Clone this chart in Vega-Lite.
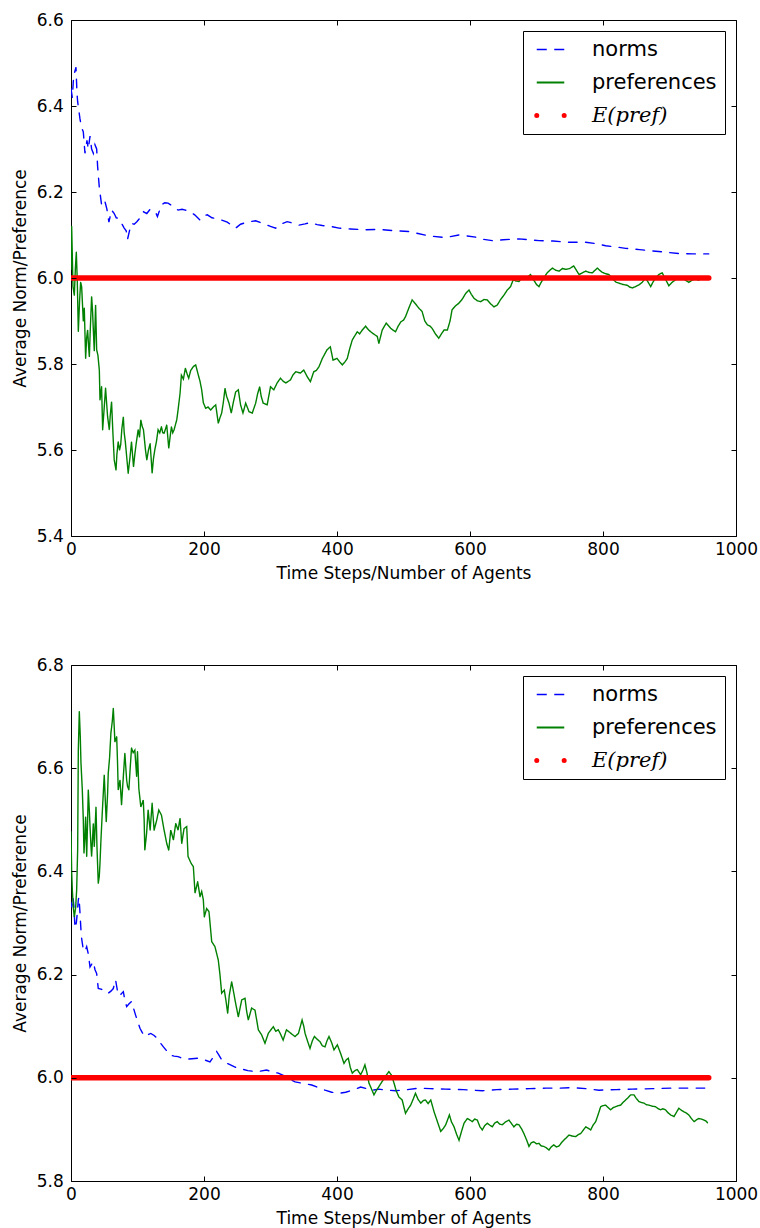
{
  "$schema": "https://vega.github.io/schema/vega-lite/v6.json",
  "background": "white",
  "padding": {"left": 10, "top": 10, "right": 0, "bottom": 0},
  "bounds": "flush",
  "spacing": 129,
  "config": {
    "font": "DejaVu Sans",
    "view": {"stroke": "#000", "strokeWidth": 1},
    "axis": {
      "grid": false, "domain": false,
      "tickColor": "#000", "tickWidth": 1,
      "labelFont": "DejaVu Sans", "labelFontSize": 17, "labelColor": "#000",
      "titleFont": "DejaVu Sans", "titleFontSize": 17, "titleFontWeight": "normal", "titleColor": "#000"
    }
  },
  "resolve": {"scale": {"color": "independent"}, "legend": {"color": "independent"}},
  "datasets": {
    "run1": [
      {"series":"norms","step":0,"value":6.44},{"series":"norms","step":2,"value":6.42},{"series":"norms","step":4,"value":6.47},{"series":"norms","step":7.5,"value":6.49},{"series":"norms","step":9,"value":6.43},{"series":"norms","step":10,"value":6.41},{"series":"norms","step":13.5,"value":6.37},{"series":"norms","step":16,"value":6.35},{"series":"norms","step":18.5,"value":6.34},{"series":"norms","step":21,"value":6.29},{"series":"norms","step":24,"value":6.32},{"series":"norms","step":26,"value":6.30},{"series":"norms","step":28.6,"value":6.33},{"series":"norms","step":31,"value":6.30},{"series":"norms","step":33.6,"value":6.29},{"series":"norms","step":36,"value":6.31},{"series":"norms","step":38.6,"value":6.30},{"series":"norms","step":40,"value":6.26},{"series":"norms","step":42.6,"value":6.21},{"series":"norms","step":46,"value":6.17},{"series":"norms","step":49,"value":6.18},{"series":"norms","step":51,"value":6.178},{"series":"norms","step":54,"value":6.16},{"series":"norms","step":57,"value":6.13},{"series":"norms","step":61,"value":6.158},{"series":"norms","step":65,"value":6.15},{"series":"norms","step":68,"value":6.14},{"series":"norms","step":71,"value":6.139},{"series":"norms","step":75,"value":6.13},{"series":"norms","step":80,"value":6.116},{"series":"norms","step":83,"value":6.11},{"series":"norms","step":85,"value":6.09},{"series":"norms","step":88,"value":6.11},{"series":"norms","step":91,"value":6.127},{"series":"norms","step":95,"value":6.125},{"series":"norms","step":99,"value":6.131},{"series":"norms","step":104,"value":6.14},{"series":"norms","step":109,"value":6.154},{"series":"norms","step":114,"value":6.15},{"series":"norms","step":119,"value":6.16},{"series":"norms","step":124,"value":6.154},{"series":"norms","step":128,"value":6.15},{"series":"norms","step":130,"value":6.143},{"series":"norms","step":136,"value":6.17},{"series":"norms","step":141,"value":6.175},{"series":"norms","step":146,"value":6.174},{"series":"norms","step":152,"value":6.168},{"series":"norms","step":161,"value":6.158},{"series":"norms","step":167,"value":6.16},{"series":"norms","step":172,"value":6.158},{"series":"norms","step":180,"value":6.153},{"series":"norms","step":186,"value":6.147},{"series":"norms","step":194,"value":6.135},{"series":"norms","step":200,"value":6.145},{"series":"norms","step":205,"value":6.147},{"series":"norms","step":212,"value":6.14},{"series":"norms","step":222.6,"value":6.137},{"series":"norms","step":235,"value":6.13},{"series":"norms","step":247.6,"value":6.116},{"series":"norms","step":255,"value":6.125},{"series":"norms","step":265,"value":6.13},{"series":"norms","step":277.7,"value":6.133},{"series":"norms","step":290,"value":6.126},{"series":"norms","step":300,"value":6.12},{"series":"norms","step":307.8,"value":6.116},{"series":"norms","step":315,"value":6.125},{"series":"norms","step":325,"value":6.131},{"series":"norms","step":335,"value":6.127},{"series":"norms","step":343,"value":6.123},{"series":"norms","step":352,"value":6.126},{"series":"norms","step":360,"value":6.129},{"series":"norms","step":370,"value":6.124},{"series":"norms","step":378,"value":6.122},{"series":"norms","step":390,"value":6.12},{"series":"norms","step":403,"value":6.116},{"series":"norms","step":420,"value":6.114},{"series":"norms","step":443,"value":6.112},{"series":"norms","step":463,"value":6.113},{"series":"norms","step":485,"value":6.11},{"series":"norms","step":508,"value":6.108},{"series":"norms","step":520,"value":6.104},{"series":"norms","step":538,"value":6.098},{"series":"norms","step":563,"value":6.094},{"series":"norms","step":583,"value":6.1},{"series":"norms","step":595,"value":6.098},{"series":"norms","step":608.5,"value":6.095},{"series":"norms","step":620,"value":6.09},{"series":"norms","step":633.5,"value":6.087},{"series":"norms","step":650,"value":6.089},{"series":"norms","step":673.7,"value":6.091},{"series":"norms","step":690,"value":6.089},{"series":"norms","step":703.7,"value":6.087},{"series":"norms","step":725,"value":6.086},{"series":"norms","step":749,"value":6.083},{"series":"norms","step":774,"value":6.083},{"series":"norms","step":790,"value":6.08},{"series":"norms","step":804,"value":6.075},{"series":"norms","step":820,"value":6.072},{"series":"norms","step":834,"value":6.069},{"series":"norms","step":855,"value":6.066},{"series":"norms","step":874,"value":6.063},{"series":"norms","step":895,"value":6.06},{"series":"norms","step":914,"value":6.057},{"series":"norms","step":935,"value":6.056},{"series":"norms","step":959,"value":6.056},
      {"series":"preferences","step":0,"value":6.02},{"series":"preferences","step":1,"value":6.12},{"series":"preferences","step":3,"value":5.98},{"series":"preferences","step":5,"value":5.96},{"series":"preferences","step":6.5,"value":6.02},{"series":"preferences","step":8,"value":6.06},{"series":"preferences","step":9.5,"value":5.99},{"series":"preferences","step":11,"value":5.875},{"series":"preferences","step":13,"value":5.95},{"series":"preferences","step":14.5,"value":5.99},{"series":"preferences","step":16,"value":5.98},{"series":"preferences","step":18.5,"value":5.90},{"series":"preferences","step":20,"value":5.93},{"series":"preferences","step":22,"value":5.813},{"series":"preferences","step":23.5,"value":5.86},{"series":"preferences","step":25,"value":5.879},{"series":"preferences","step":26.5,"value":5.84},{"series":"preferences","step":27.6,"value":5.817},{"series":"preferences","step":29,"value":5.88},{"series":"preferences","step":31,"value":5.957},{"series":"preferences","step":32.5,"value":5.92},{"series":"preferences","step":33.6,"value":5.879},{"series":"preferences","step":35,"value":5.83},{"series":"preferences","step":37,"value":5.937},{"series":"preferences","step":38.6,"value":5.833},{"series":"preferences","step":40.5,"value":5.82},{"series":"preferences","step":42.6,"value":5.786},{"series":"preferences","step":43.6,"value":5.716},{"series":"preferences","step":46,"value":5.747},{"series":"preferences","step":47.6,"value":5.647},{"series":"preferences","step":50,"value":5.70},{"series":"preferences","step":52,"value":5.744},{"series":"preferences","step":55,"value":5.678},{"series":"preferences","step":57.6,"value":5.647},{"series":"preferences","step":59,"value":5.68},{"series":"preferences","step":61,"value":5.712},{"series":"preferences","step":63,"value":5.64},{"series":"preferences","step":65,"value":5.577},{"series":"preferences","step":67.7,"value":5.553},{"series":"preferences","step":69,"value":5.59},{"series":"preferences","step":71,"value":5.619},{"series":"preferences","step":73,"value":5.60},{"series":"preferences","step":74.7,"value":5.612},{"series":"preferences","step":76.5,"value":5.65},{"series":"preferences","step":78.7,"value":5.677},{"series":"preferences","step":80,"value":5.64},{"series":"preferences","step":81.7,"value":5.619},{"series":"preferences","step":84,"value":5.58},{"series":"preferences","step":86,"value":5.546},{"series":"preferences","step":88.5,"value":5.58},{"series":"preferences","step":91,"value":5.619},{"series":"preferences","step":94,"value":5.561},{"series":"preferences","step":96,"value":5.59},{"series":"preferences","step":98,"value":5.615},{"series":"preferences","step":101,"value":5.647},{"series":"preferences","step":103,"value":5.63},{"series":"preferences","step":105,"value":5.67},{"series":"preferences","step":107,"value":5.655},{"series":"preferences","step":109,"value":5.647},{"series":"preferences","step":112,"value":5.60},{"series":"preferences","step":114,"value":5.577},{"series":"preferences","step":116.5,"value":5.60},{"series":"preferences","step":119,"value":5.615},{"series":"preferences","step":121,"value":5.57},{"series":"preferences","step":122,"value":5.546},{"series":"preferences","step":124,"value":5.58},{"series":"preferences","step":126,"value":5.6},{"series":"preferences","step":128.5,"value":5.62},{"series":"preferences","step":131,"value":5.647},{"series":"preferences","step":133.5,"value":5.64},{"series":"preferences","step":136,"value":5.654},{"series":"preferences","step":138,"value":5.64},{"series":"preferences","step":140,"value":5.639},{"series":"preferences","step":144,"value":5.658},{"series":"preferences","step":147,"value":5.604},{"series":"preferences","step":149,"value":5.63},{"series":"preferences","step":151,"value":5.654},{"series":"preferences","step":153,"value":5.64},{"series":"preferences","step":155,"value":5.647},{"series":"preferences","step":159,"value":5.67},{"series":"preferences","step":161,"value":5.693},{"series":"preferences","step":164,"value":5.732},{"series":"preferences","step":166,"value":5.774},{"series":"preferences","step":169,"value":5.765},{"series":"preferences","step":172,"value":5.79},{"series":"preferences","step":175,"value":5.775},{"series":"preferences","step":177,"value":5.767},{"series":"preferences","step":180,"value":5.785},{"series":"preferences","step":184,"value":5.794},{"series":"preferences","step":187.5,"value":5.798},{"series":"preferences","step":191.5,"value":5.774},{"series":"preferences","step":194,"value":5.76},{"series":"preferences","step":196.5,"value":5.74},{"series":"preferences","step":199,"value":5.71},{"series":"preferences","step":202.5,"value":5.697},{"series":"preferences","step":206,"value":5.70},{"series":"preferences","step":210,"value":5.693},{"series":"preferences","step":214,"value":5.70},{"series":"preferences","step":217.6,"value":5.705},{"series":"preferences","step":221.5,"value":5.662},{"series":"preferences","step":224,"value":5.675},{"series":"preferences","step":226.6,"value":5.686},{"series":"preferences","step":229,"value":5.71},{"series":"preferences","step":231.6,"value":5.743},{"series":"preferences","step":234,"value":5.725},{"series":"preferences","step":237.6,"value":5.709},{"series":"preferences","step":241,"value":5.686},{"series":"preferences","step":244,"value":5.71},{"series":"preferences","step":247.6,"value":5.735},{"series":"preferences","step":251.6,"value":5.74},{"series":"preferences","step":255,"value":5.705},{"series":"preferences","step":258.6,"value":5.686},{"series":"preferences","step":262.7,"value":5.709},{"series":"preferences","step":267.7,"value":5.689},{"series":"preferences","step":272.6,"value":5.686},{"series":"preferences","step":277.7,"value":5.709},{"series":"preferences","step":280.5,"value":5.73},{"series":"preferences","step":283.7,"value":5.747},{"series":"preferences","step":286,"value":5.725},{"series":"preferences","step":289,"value":5.709},{"series":"preferences","step":295,"value":5.705},{"series":"preferences","step":300,"value":5.747},{"series":"preferences","step":305,"value":5.74},{"series":"preferences","step":310,"value":5.756},{"series":"preferences","step":315,"value":5.767},{"series":"preferences","step":319,"value":5.76},{"series":"preferences","step":323,"value":5.756},{"series":"preferences","step":330,"value":5.763},{"series":"preferences","step":334,"value":5.775},{"series":"preferences","step":338,"value":5.782},{"series":"preferences","step":345,"value":5.779},{"series":"preferences","step":350,"value":5.786},{"series":"preferences","step":355,"value":5.771},{"series":"preferences","step":360,"value":5.759},{"series":"preferences","step":365,"value":5.782},{"series":"preferences","step":369,"value":5.785},{"series":"preferences","step":373,"value":5.794},{"series":"preferences","step":378,"value":5.813},{"series":"preferences","step":385,"value":5.833},{"series":"preferences","step":390,"value":5.84},{"series":"preferences","step":394,"value":5.809},{"series":"preferences","step":400,"value":5.813},{"series":"preferences","step":404,"value":5.805},{"series":"preferences","step":408,"value":5.798},{"series":"preferences","step":412,"value":5.805},{"series":"preferences","step":415.5,"value":5.813},{"series":"preferences","step":419,"value":5.835},{"series":"preferences","step":423,"value":5.856},{"series":"preferences","step":430.5,"value":5.875},{"series":"preferences","step":434,"value":5.87},{"series":"preferences","step":438,"value":5.879},{"series":"preferences","step":443,"value":5.888},{"series":"preferences","step":447,"value":5.88},{"series":"preferences","step":450.7,"value":5.875},{"series":"preferences","step":455,"value":5.87},{"series":"preferences","step":460.6,"value":5.864},{"series":"preferences","step":463,"value":5.848},{"series":"preferences","step":468,"value":5.879},{"series":"preferences","step":474,"value":5.895},{"series":"preferences","step":478,"value":5.888},{"series":"preferences","step":480.7,"value":5.883},{"series":"preferences","step":485,"value":5.878},{"series":"preferences","step":488,"value":5.875},{"series":"preferences","step":492,"value":5.888},{"series":"preferences","step":496,"value":5.898},{"series":"preferences","step":500,"value":5.902},{"series":"preferences","step":503,"value":5.91},{"series":"preferences","step":508,"value":5.93},{"series":"preferences","step":513,"value":5.949},{"series":"preferences","step":518,"value":5.94},{"series":"preferences","step":523,"value":5.93},{"series":"preferences","step":528,"value":5.922},{"series":"preferences","step":532,"value":5.90},{"series":"preferences","step":536,"value":5.891},{"series":"preferences","step":540,"value":5.888},{"series":"preferences","step":543,"value":5.883},{"series":"preferences","step":548,"value":5.87},{"series":"preferences","step":553,"value":5.86},{"series":"preferences","step":557,"value":5.87},{"series":"preferences","step":561,"value":5.879},{"series":"preferences","step":566,"value":5.879},{"series":"preferences","step":570,"value":5.90},{"series":"preferences","step":573,"value":5.926},{"series":"preferences","step":578,"value":5.935},{"series":"preferences","step":583,"value":5.941},{"series":"preferences","step":588,"value":5.95},{"series":"preferences","step":593.5,"value":5.964},{"series":"preferences","step":598.5,"value":5.972},{"series":"preferences","step":602,"value":5.962},{"series":"preferences","step":606,"value":5.953},{"series":"preferences","step":611,"value":5.947},{"series":"preferences","step":616,"value":5.945},{"series":"preferences","step":621,"value":5.95},{"series":"preferences","step":626,"value":5.949},{"series":"preferences","step":631,"value":5.94},{"series":"preferences","step":636,"value":5.933},{"series":"preferences","step":641,"value":5.937},{"series":"preferences","step":646,"value":5.95},{"series":"preferences","step":651,"value":5.96},{"series":"preferences","step":656,"value":5.972},{"series":"preferences","step":661,"value":5.98},{"series":"preferences","step":665,"value":5.996},{"series":"preferences","step":669,"value":5.993},{"series":"preferences","step":673.7,"value":5.992},{"series":"preferences","step":678,"value":6.0},{"series":"preferences","step":685,"value":6.0},{"series":"preferences","step":691,"value":6.008},{"series":"preferences","step":696,"value":5.995},{"series":"preferences","step":700,"value":5.985},{"series":"preferences","step":703.7,"value":5.98},{"series":"preferences","step":707,"value":5.99},{"series":"preferences","step":711,"value":6.0},{"series":"preferences","step":716,"value":6.012},{"series":"preferences","step":720,"value":6.018},{"series":"preferences","step":724,"value":6.023},{"series":"preferences","step":729,"value":6.018},{"series":"preferences","step":734,"value":6.016},{"series":"preferences","step":739,"value":6.022},{"series":"preferences","step":744,"value":6.02},{"series":"preferences","step":750,"value":6.022},{"series":"preferences","step":756,"value":6.028},{"series":"preferences","step":760,"value":6.018},{"series":"preferences","step":764,"value":6.008},{"series":"preferences","step":769,"value":6.012},{"series":"preferences","step":774,"value":6.016},{"series":"preferences","step":779,"value":6.013},{"series":"preferences","step":784,"value":6.012},{"series":"preferences","step":788,"value":6.018},{"series":"preferences","step":791.5,"value":6.023},{"series":"preferences","step":795,"value":6.018},{"series":"preferences","step":799,"value":6.013},{"series":"preferences","step":804,"value":6.01},{"series":"preferences","step":809,"value":6.008},{"series":"preferences","step":815,"value":5.997},{"series":"preferences","step":820,"value":5.99},{"series":"preferences","step":824,"value":5.988},{"series":"preferences","step":830,"value":5.985},{"series":"preferences","step":836.6,"value":5.983},{"series":"preferences","step":840,"value":5.979},{"series":"preferences","step":844,"value":5.977},{"series":"preferences","step":849,"value":5.98},{"series":"preferences","step":854,"value":5.984},{"series":"preferences","step":859,"value":5.99},{"series":"preferences","step":864,"value":6.0},{"series":"preferences","step":868,"value":5.99},{"series":"preferences","step":871.7,"value":5.98},{"series":"preferences","step":875,"value":5.99},{"series":"preferences","step":879,"value":6.0},{"series":"preferences","step":884,"value":6.008},{"series":"preferences","step":889,"value":6.012},{"series":"preferences","step":893,"value":6.0},{"series":"preferences","step":899,"value":5.982},{"series":"preferences","step":904,"value":5.99},{"series":"preferences","step":909,"value":5.996},{"series":"preferences","step":914,"value":5.998},{"series":"preferences","step":919,"value":6.0},{"series":"preferences","step":924,"value":5.995},{"series":"preferences","step":929,"value":5.99},{"series":"preferences","step":934,"value":5.995},{"series":"preferences","step":939,"value":5.998},{"series":"preferences","step":944,"value":5.995},{"series":"preferences","step":949,"value":6.0},{"series":"preferences","step":954,"value":6.0},{"series":"preferences","step":959,"value":6.0},
      {"series":"E(pref)","step":0,"value":6.0},{"series":"E(pref)","step":959,"value":6.0}
    ],
    "run2": [
      {"series":"norms","step":0,"value":6.34},{"series":"norms","step":1,"value":6.33},{"series":"norms","step":3,"value":6.35},{"series":"norms","step":4.5,"value":6.33},{"series":"norms","step":6,"value":6.29},{"series":"norms","step":8,"value":6.30},{"series":"norms","step":9.5,"value":6.32},{"series":"norms","step":11,"value":6.345},{"series":"norms","step":12,"value":6.35},{"series":"norms","step":13.5,"value":6.32},{"series":"norms","step":15,"value":6.286},{"series":"norms","step":16,"value":6.27},{"series":"norms","step":18.5,"value":6.248},{"series":"norms","step":21,"value":6.245},{"series":"norms","step":23.6,"value":6.254},{"series":"norms","step":26,"value":6.24},{"series":"norms","step":28.6,"value":6.215},{"series":"norms","step":31,"value":6.22},{"series":"norms","step":33.6,"value":6.225},{"series":"norms","step":36,"value":6.21},{"series":"norms","step":38.6,"value":6.202},{"series":"norms","step":41,"value":6.173},{"series":"norms","step":45,"value":6.172},{"series":"norms","step":48.6,"value":6.17},{"series":"norms","step":52,"value":6.165},{"series":"norms","step":56,"value":6.164},{"series":"norms","step":60,"value":6.168},{"series":"norms","step":63.6,"value":6.173},{"series":"norms","step":67,"value":6.19},{"series":"norms","step":69,"value":6.175},{"series":"norms","step":71,"value":6.16},{"series":"norms","step":75,"value":6.162},{"series":"norms","step":78.7,"value":6.167},{"series":"norms","step":81,"value":6.15},{"series":"norms","step":83.7,"value":6.138},{"series":"norms","step":87,"value":6.143},{"series":"norms","step":91,"value":6.148},{"series":"norms","step":94,"value":6.135},{"series":"norms","step":97,"value":6.122},{"series":"norms","step":100,"value":6.11},{"series":"norms","step":103.7,"value":6.096},{"series":"norms","step":107,"value":6.088},{"series":"norms","step":111,"value":6.08},{"series":"norms","step":115,"value":6.083},{"series":"norms","step":120,"value":6.086},{"series":"norms","step":125,"value":6.082},{"series":"norms","step":129,"value":6.077},{"series":"norms","step":134,"value":6.068},{"series":"norms","step":139,"value":6.06},{"series":"norms","step":144,"value":6.052},{"series":"norms","step":149,"value":6.044},{"series":"norms","step":155,"value":6.042},{"series":"norms","step":161,"value":6.041},{"series":"norms","step":167,"value":6.038},{"series":"norms","step":174,"value":6.036},{"series":"norms","step":182,"value":6.037},{"series":"norms","step":191.5,"value":6.038},{"series":"norms","step":200,"value":6.035},{"series":"norms","step":209,"value":6.031},{"series":"norms","step":214,"value":6.04},{"series":"norms","step":219,"value":6.051},{"series":"norms","step":222,"value":6.045},{"series":"norms","step":226.6,"value":6.035},{"series":"norms","step":231,"value":6.03},{"series":"norms","step":236.6,"value":6.027},{"series":"norms","step":246,"value":6.021},{"series":"norms","step":256.7,"value":6.017},{"series":"norms","step":266,"value":6.014},{"series":"norms","step":276.7,"value":6.012},{"series":"norms","step":285,"value":6.013},{"series":"norms","step":294,"value":6.015},{"series":"norms","step":302,"value":6.012},{"series":"norms","step":311.7,"value":6.009},{"series":"norms","step":320,"value":6.004},{"series":"norms","step":328,"value":5.998},{"series":"norms","step":337,"value":5.992},{"series":"norms","step":350,"value":5.989},{"series":"norms","step":362,"value":5.986},{"series":"norms","step":372,"value":5.981},{"series":"norms","step":382,"value":5.976},{"series":"norms","step":392,"value":5.972},{"series":"norms","step":403,"value":5.97},{"series":"norms","step":413,"value":5.972},{"series":"norms","step":423,"value":5.976},{"series":"norms","step":435.6,"value":5.982},{"series":"norms","step":445,"value":5.979},{"series":"norms","step":453,"value":5.976},{"series":"norms","step":463,"value":5.978},{"series":"norms","step":475,"value":5.976},{"series":"norms","step":488,"value":5.975},{"series":"norms","step":505,"value":5.977},{"series":"norms","step":523,"value":5.98},{"series":"norms","step":540,"value":5.979},{"series":"norms","step":563,"value":5.978},{"series":"norms","step":590,"value":5.977},{"series":"norms","step":618.5,"value":5.975},{"series":"norms","step":640,"value":5.977},{"series":"norms","step":663.7,"value":5.978},{"series":"norms","step":690,"value":5.979},{"series":"norms","step":714,"value":5.98},{"series":"norms","step":735,"value":5.98},{"series":"norms","step":754,"value":5.981},{"series":"norms","step":775,"value":5.979},{"series":"norms","step":794,"value":5.976},{"series":"norms","step":820,"value":5.977},{"series":"norms","step":844,"value":5.978},{"series":"norms","step":875,"value":5.979},{"series":"norms","step":904,"value":5.98},{"series":"norms","step":930,"value":5.98},{"series":"norms","step":957,"value":5.98},
      {"series":"preferences","step":0,"value":6.477},{"series":"preferences","step":1,"value":6.40},{"series":"preferences","step":2,"value":6.364},{"series":"preferences","step":3.5,"value":6.33},{"series":"preferences","step":5,"value":6.312},{"series":"preferences","step":7,"value":6.33},{"series":"preferences","step":8.5,"value":6.364},{"series":"preferences","step":10,"value":6.441},{"series":"preferences","step":11,"value":6.635},{"series":"preferences","step":12.5,"value":6.71},{"series":"preferences","step":14,"value":6.66},{"series":"preferences","step":15,"value":6.61},{"series":"preferences","step":17,"value":6.558},{"series":"preferences","step":18.5,"value":6.50},{"series":"preferences","step":19.5,"value":6.435},{"series":"preferences","step":21,"value":6.47},{"series":"preferences","step":22,"value":6.506},{"series":"preferences","step":23.6,"value":6.429},{"series":"preferences","step":25,"value":6.50},{"series":"preferences","step":26,"value":6.558},{"series":"preferences","step":27.5,"value":6.52},{"series":"preferences","step":28.6,"value":6.487},{"series":"preferences","step":30,"value":6.45},{"series":"preferences","step":31,"value":6.429},{"series":"preferences","step":33.6,"value":6.493},{"series":"preferences","step":35,"value":6.448},{"series":"preferences","step":37.6,"value":6.525},{"series":"preferences","step":39,"value":6.45},{"series":"preferences","step":41,"value":6.377},{"series":"preferences","step":42.5,"value":6.39},{"series":"preferences","step":43.6,"value":6.416},{"series":"preferences","step":45,"value":6.46},{"series":"preferences","step":47,"value":6.513},{"series":"preferences","step":50,"value":6.587},{"series":"preferences","step":51.5,"value":6.54},{"series":"preferences","step":53,"value":6.496},{"series":"preferences","step":55,"value":6.55},{"series":"preferences","step":56,"value":6.59},{"series":"preferences","step":58,"value":6.62},{"series":"preferences","step":60,"value":6.668},{"series":"preferences","step":62,"value":6.69},{"series":"preferences","step":63.6,"value":6.716},{"series":"preferences","step":65,"value":6.68},{"series":"preferences","step":66,"value":6.651},{"series":"preferences","step":68.7,"value":6.661},{"series":"preferences","step":70,"value":6.61},{"series":"preferences","step":71,"value":6.558},{"series":"preferences","step":73.7,"value":6.577},{"series":"preferences","step":76,"value":6.529},{"series":"preferences","step":78.7,"value":6.584},{"series":"preferences","step":81,"value":6.629},{"series":"preferences","step":83.7,"value":6.577},{"series":"preferences","step":85,"value":6.565},{"series":"preferences","step":87,"value":6.558},{"series":"preferences","step":89,"value":6.60},{"series":"preferences","step":91,"value":6.639},{"series":"preferences","step":93.5,"value":6.63},{"series":"preferences","step":96,"value":6.635},{"series":"preferences","step":98.7,"value":6.584},{"series":"preferences","step":100,"value":6.632},{"series":"preferences","step":102,"value":6.561},{"series":"preferences","step":105,"value":6.525},{"series":"preferences","step":108.7,"value":6.538},{"series":"preferences","step":110,"value":6.50},{"series":"preferences","step":111,"value":6.441},{"series":"preferences","step":113.7,"value":6.474},{"series":"preferences","step":116,"value":6.519},{"series":"preferences","step":119,"value":6.48},{"series":"preferences","step":122,"value":6.532},{"series":"preferences","step":125,"value":6.48},{"series":"preferences","step":129,"value":6.5},{"series":"preferences","step":132,"value":6.519},{"series":"preferences","step":136,"value":6.509},{"series":"preferences","step":140,"value":6.48},{"series":"preferences","step":144,"value":6.454},{"series":"preferences","step":147,"value":6.441},{"series":"preferences","step":150,"value":6.48},{"series":"preferences","step":154,"value":6.461},{"series":"preferences","step":157.5,"value":6.493},{"series":"preferences","step":161,"value":6.48},{"series":"preferences","step":164,"value":6.503},{"series":"preferences","step":166.5,"value":6.454},{"series":"preferences","step":170,"value":6.483},{"series":"preferences","step":174,"value":6.487},{"series":"preferences","step":176,"value":6.429},{"series":"preferences","step":180.5,"value":6.416},{"series":"preferences","step":184,"value":6.409},{"series":"preferences","step":186.5,"value":6.358},{"series":"preferences","step":190.5,"value":6.38},{"series":"preferences","step":194,"value":6.351},{"series":"preferences","step":196.5,"value":6.361},{"series":"preferences","step":199,"value":6.345},{"series":"preferences","step":200.5,"value":6.312},{"series":"preferences","step":204,"value":6.328},{"series":"preferences","step":207.5,"value":6.322},{"series":"preferences","step":211.6,"value":6.264},{"series":"preferences","step":216.5,"value":6.254},{"series":"preferences","step":221.5,"value":6.228},{"series":"preferences","step":224,"value":6.20},{"series":"preferences","step":226.6,"value":6.164},{"series":"preferences","step":230.5,"value":6.17},{"series":"preferences","step":233,"value":6.15},{"series":"preferences","step":235.6,"value":6.125},{"series":"preferences","step":238,"value":6.16},{"series":"preferences","step":241.6,"value":6.186},{"series":"preferences","step":244,"value":6.17},{"series":"preferences","step":246.6,"value":6.151},{"series":"preferences","step":251.6,"value":6.118},{"series":"preferences","step":256.7,"value":6.151},{"series":"preferences","step":261.7,"value":6.154},{"series":"preferences","step":264,"value":6.13},{"series":"preferences","step":266.6,"value":6.112},{"series":"preferences","step":271.6,"value":6.135},{"series":"preferences","step":276.7,"value":6.131},{"series":"preferences","step":281.7,"value":6.093},{"series":"preferences","step":286.7,"value":6.083},{"series":"preferences","step":291.7,"value":6.067},{"series":"preferences","step":296.7,"value":6.086},{"series":"preferences","step":300,"value":6.092},{"series":"preferences","step":304.2,"value":6.099},{"series":"preferences","step":308,"value":6.09},{"series":"preferences","step":311.7,"value":6.093},{"series":"preferences","step":315,"value":6.085},{"series":"preferences","step":319,"value":6.073},{"series":"preferences","step":324,"value":6.093},{"series":"preferences","step":327,"value":6.09},{"series":"preferences","step":330.8,"value":6.086},{"series":"preferences","step":336.8,"value":6.08},{"series":"preferences","step":342,"value":6.086},{"series":"preferences","step":345,"value":6.10},{"series":"preferences","step":347.5,"value":6.112},{"series":"preferences","step":350,"value":6.10},{"series":"preferences","step":352,"value":6.086},{"series":"preferences","step":356,"value":6.07},{"series":"preferences","step":359.4,"value":6.057},{"series":"preferences","step":363,"value":6.072},{"series":"preferences","step":366,"value":6.08},{"series":"preferences","step":370,"value":6.075},{"series":"preferences","step":374.4,"value":6.07},{"series":"preferences","step":378,"value":6.062},{"series":"preferences","step":382,"value":6.06},{"series":"preferences","step":385,"value":6.072},{"series":"preferences","step":388,"value":6.08},{"series":"preferences","step":392,"value":6.068},{"series":"preferences","step":395.5,"value":6.054},{"series":"preferences","step":400.5,"value":6.064},{"series":"preferences","step":405.5,"value":6.047},{"series":"preferences","step":410.5,"value":6.028},{"series":"preferences","step":414,"value":6.035},{"series":"preferences","step":417,"value":6.038},{"series":"preferences","step":420,"value":6.02},{"series":"preferences","step":423,"value":6.009},{"series":"preferences","step":427,"value":6.014},{"series":"preferences","step":430.5,"value":6.016},{"series":"preferences","step":435.6,"value":6.006},{"series":"preferences","step":439,"value":6.015},{"series":"preferences","step":442,"value":6.025},{"series":"preferences","step":445,"value":6.01},{"series":"preferences","step":448,"value":5.99},{"series":"preferences","step":452,"value":5.978},{"series":"preferences","step":455.6,"value":5.967},{"series":"preferences","step":459,"value":5.975},{"series":"preferences","step":463,"value":5.983},{"series":"preferences","step":468,"value":5.993},{"series":"preferences","step":473,"value":6.003},{"series":"preferences","step":478,"value":6.012},{"series":"preferences","step":482,"value":6.005},{"series":"preferences","step":485.7,"value":5.99},{"series":"preferences","step":489,"value":5.975},{"series":"preferences","step":493,"value":5.963},{"series":"preferences","step":498,"value":5.957},{"series":"preferences","step":503,"value":5.931},{"series":"preferences","step":507,"value":5.94},{"series":"preferences","step":510.8,"value":5.947},{"series":"preferences","step":515,"value":5.96},{"series":"preferences","step":518,"value":5.97},{"series":"preferences","step":522,"value":5.958},{"series":"preferences","step":526,"value":5.951},{"series":"preferences","step":530,"value":5.956},{"series":"preferences","step":533,"value":5.957},{"series":"preferences","step":537,"value":5.95},{"series":"preferences","step":541,"value":5.957},{"series":"preferences","step":546,"value":5.934},{"series":"preferences","step":551,"value":5.915},{"series":"preferences","step":556,"value":5.896},{"series":"preferences","step":560,"value":5.902},{"series":"preferences","step":563.5,"value":5.909},{"series":"preferences","step":569,"value":5.928},{"series":"preferences","step":572,"value":5.915},{"series":"preferences","step":576,"value":5.905},{"series":"preferences","step":580,"value":5.89},{"series":"preferences","step":583.5,"value":5.879},{"series":"preferences","step":587,"value":5.895},{"series":"preferences","step":591,"value":5.912},{"series":"preferences","step":596,"value":5.921},{"series":"preferences","step":600,"value":5.918},{"series":"preferences","step":603.5,"value":5.915},{"series":"preferences","step":607,"value":5.92},{"series":"preferences","step":611,"value":5.918},{"series":"preferences","step":615,"value":5.905},{"series":"preferences","step":618.5,"value":5.899},{"series":"preferences","step":622,"value":5.907},{"series":"preferences","step":626,"value":5.912},{"series":"preferences","step":630,"value":5.908},{"series":"preferences","step":633.5,"value":5.905},{"series":"preferences","step":637,"value":5.912},{"series":"preferences","step":641,"value":5.915},{"series":"preferences","step":645,"value":5.91},{"series":"preferences","step":648.5,"value":5.909},{"series":"preferences","step":653,"value":5.914},{"series":"preferences","step":658.6,"value":5.918},{"series":"preferences","step":662,"value":5.912},{"series":"preferences","step":666,"value":5.905},{"series":"preferences","step":670,"value":5.91},{"series":"preferences","step":673.7,"value":5.909},{"series":"preferences","step":678,"value":5.9},{"series":"preferences","step":681,"value":5.892},{"series":"preferences","step":685,"value":5.88},{"series":"preferences","step":688.7,"value":5.867},{"series":"preferences","step":692,"value":5.874},{"series":"preferences","step":696,"value":5.876},{"series":"preferences","step":700,"value":5.872},{"series":"preferences","step":703.7,"value":5.873},{"series":"preferences","step":707,"value":5.868},{"series":"preferences","step":711,"value":5.867},{"series":"preferences","step":715,"value":5.864},{"series":"preferences","step":718.8,"value":5.86},{"series":"preferences","step":722,"value":5.866},{"series":"preferences","step":726,"value":5.87},{"series":"preferences","step":730,"value":5.866},{"series":"preferences","step":734,"value":5.868},{"series":"preferences","step":738,"value":5.875},{"series":"preferences","step":741,"value":5.879},{"series":"preferences","step":745,"value":5.884},{"series":"preferences","step":749,"value":5.889},{"series":"preferences","step":754,"value":5.887},{"series":"preferences","step":759,"value":5.886},{"series":"preferences","step":763,"value":5.89},{"series":"preferences","step":766.5,"value":5.892},{"series":"preferences","step":770,"value":5.898},{"series":"preferences","step":774,"value":5.905},{"series":"preferences","step":778,"value":5.902},{"series":"preferences","step":781.5,"value":5.899},{"series":"preferences","step":785,"value":5.908},{"series":"preferences","step":789,"value":5.915},{"series":"preferences","step":793,"value":5.93},{"series":"preferences","step":796.5,"value":5.944},{"series":"preferences","step":800,"value":5.946},{"series":"preferences","step":804,"value":5.947},{"series":"preferences","step":808,"value":5.942},{"series":"preferences","step":811.5,"value":5.938},{"series":"preferences","step":815,"value":5.942},{"series":"preferences","step":819,"value":5.944},{"series":"preferences","step":823,"value":5.946},{"series":"preferences","step":826.6,"value":5.947},{"series":"preferences","step":830,"value":5.952},{"series":"preferences","step":834,"value":5.957},{"series":"preferences","step":838,"value":5.962},{"series":"preferences","step":841.6,"value":5.967},{"series":"preferences","step":846.6,"value":5.967},{"series":"preferences","step":850,"value":5.96},{"series":"preferences","step":854,"value":5.954},{"series":"preferences","step":858,"value":5.952},{"series":"preferences","step":861.6,"value":5.951},{"series":"preferences","step":865,"value":5.948},{"series":"preferences","step":869,"value":5.947},{"series":"preferences","step":874,"value":5.945},{"series":"preferences","step":879,"value":5.944},{"series":"preferences","step":883,"value":5.94},{"series":"preferences","step":886.6,"value":5.938},{"series":"preferences","step":890,"value":5.94},{"series":"preferences","step":894,"value":5.938},{"series":"preferences","step":898,"value":5.932},{"series":"preferences","step":901.8,"value":5.928},{"series":"preferences","step":906.8,"value":5.925},{"series":"preferences","step":910,"value":5.932},{"series":"preferences","step":914,"value":5.941},{"series":"preferences","step":918,"value":5.937},{"series":"preferences","step":921.8,"value":5.934},{"series":"preferences","step":925,"value":5.932},{"series":"preferences","step":929,"value":5.928},{"series":"preferences","step":933,"value":5.921},{"series":"preferences","step":937,"value":5.915},{"series":"preferences","step":941,"value":5.919},{"series":"preferences","step":944,"value":5.921},{"series":"preferences","step":948,"value":5.92},{"series":"preferences","step":952,"value":5.918},{"series":"preferences","step":955,"value":5.916},{"series":"preferences","step":957,"value":5.913},
      {"series":"E(pref)","step":0,"value":6.0},{"series":"E(pref)","step":959,"value":6.0}
    ]
  },
  "vconcat": [
    {
      "width": 665, "height": 516,
      "data": {"name": "run1"},
      "layer": [
        {
          "transform": [{"filter": "datum.series !== 'E(pref)'"}],
          "mark": {"type": "line", "strokeWidth": 1.4, "strokeCap": "round", "clip": true},
          "encoding": {
            "x": {"field": "step", "type": "quantitative", "scale": {"domain": [0, 1000], "nice": false},
                  "axis": {"orient": "bottom", "title": "Time Steps/Number of Agents", "values": [0, 200, 400, 600, 800, 1000], "format": "d", "labelFlush": false,
                           "offset": -5, "tickSize": 5, "zindex": 1, "labelPadding": 5.6, "titlePadding": 8}},
            "y": {"field": "value", "type": "quantitative", "scale": {"domain": [5.4, 6.6], "nice": false, "zero": false},
                  "axis": {"orient": "left", "title": "Average Norm/Preference", "values": [5.4, 5.6, 5.8, 6.0, 6.2, 6.4, 6.6], "format": ".1f", "labelFlush": false,
                           "offset": -5, "tickSize": 5, "zindex": 1, "labelPadding": 7.7, "titlePadding": 7}},
            "strokeDash": {"field": "series", "type": "nominal", "legend": null,
                           "scale": {"domain": ["norms", "preferences"], "range": [[8.6, 8.4], [1, 0]]}},
            "color": {
              "field": "series", "type": "nominal",
              "scale": {"domain": ["norms", "preferences", "E(pref)"], "range": ["#0000ff", "#008000", "#ff0000"]},
              "legend": {
                "title": null, "orient": "top-right", "offset": 11,
                "symbolType": "stroke", "symbolSize": 756, "symbolStrokeWidth": 1.5, "symbolOffset": 9,
                "labelFont": "DejaVu Sans", "labelFontSize": 21, "labelColor": "#000", "labelOffset": 31, "labelLimit": 300,
                "padding": 8, "rowPadding": 11, "strokeColor": "#000", "fillColor": "#fff", "cornerRadius": 0,
                "encode": {
                  "symbols": {"update": {
                    "strokeDash": {"signal": "datum.value === 'norms' ? [10, 7.5] : datum.value === 'E(pref)' ? [0.01, 27.4] : [1, 0]"},
                    "strokeWidth": {"signal": "datum.value === 'E(pref)' ? 5 : datum.value === 'preferences' ? 2 : 1.5"},
                    "strokeCap": {"signal": "datum.value === 'E(pref)' ? 'round' : 'butt'"}
                  }},
                  "labels": {"update": {
                    "font": {"signal": "datum.value === 'E(pref)' ? 'DejaVu Serif' : 'DejaVu Sans'"},
                    "fontStyle": {"signal": "datum.value === 'E(pref)' ? 'italic' : 'normal'"}
                  }}
                }
              }
            }
          }
        },
        {
          "transform": [{"filter": "datum.series === 'E(pref)'"}],
          "mark": {"type": "line", "strokeWidth": 5.5, "strokeCap": "round", "clip": true},
          "encoding": {
            "x": {"field": "step", "type": "quantitative",
                  "axis": {"orient": "top", "labels": false, "title": null, "values": [0, 200, 400, 600, 800, 1000], "offset": -5, "tickSize": 5, "zindex": 1}},
            "y": {"field": "value", "type": "quantitative",
                  "axis": {"orient": "right", "labels": false, "title": null, "values": [5.4, 5.6, 5.8, 6.0, 6.2, 6.4, 6.6], "offset": -5, "tickSize": 5, "zindex": 1}},
            "color": {"field": "series", "type": "nominal"}
          }
        }
      ]
    },
    {
      "width": 665, "height": 516,
      "data": {"name": "run2"},
      "layer": [
        {
          "transform": [{"filter": "datum.series !== 'E(pref)'"}],
          "mark": {"type": "line", "strokeWidth": 1.4, "strokeCap": "round", "clip": true},
          "encoding": {
            "x": {"field": "step", "type": "quantitative", "scale": {"domain": [0, 1000], "nice": false},
                  "axis": {"orient": "bottom", "title": "Time Steps/Number of Agents", "values": [0, 200, 400, 600, 800, 1000], "format": "d", "labelFlush": false,
                           "offset": -5, "tickSize": 5, "zindex": 1, "labelPadding": 5.6, "titlePadding": 8}},
            "y": {"field": "value", "type": "quantitative", "scale": {"domain": [5.8, 6.8], "nice": false, "zero": false},
                  "axis": {"orient": "left", "title": "Average Norm/Preference", "values": [5.8, 6.0, 6.2, 6.4, 6.6, 6.8], "format": ".1f", "labelFlush": false,
                           "offset": -5, "tickSize": 5, "zindex": 1, "labelPadding": 7.7, "titlePadding": 7}},
            "strokeDash": {"field": "series", "type": "nominal", "legend": null,
                           "scale": {"domain": ["norms", "preferences"], "range": [[8.6, 8.4], [1, 0]]}},
            "color": {
              "field": "series", "type": "nominal",
              "scale": {"domain": ["norms", "preferences", "E(pref)"], "range": ["#0000ff", "#008000", "#ff0000"]},
              "legend": {
                "title": null, "orient": "top-right", "offset": 11,
                "symbolType": "stroke", "symbolSize": 756, "symbolStrokeWidth": 1.5, "symbolOffset": 9,
                "labelFont": "DejaVu Sans", "labelFontSize": 21, "labelColor": "#000", "labelOffset": 31, "labelLimit": 300,
                "padding": 8, "rowPadding": 11, "strokeColor": "#000", "fillColor": "#fff", "cornerRadius": 0,
                "encode": {
                  "symbols": {"update": {
                    "strokeDash": {"signal": "datum.value === 'norms' ? [10, 7.5] : datum.value === 'E(pref)' ? [0.01, 27.4] : [1, 0]"},
                    "strokeWidth": {"signal": "datum.value === 'E(pref)' ? 5 : datum.value === 'preferences' ? 2 : 1.5"},
                    "strokeCap": {"signal": "datum.value === 'E(pref)' ? 'round' : 'butt'"}
                  }},
                  "labels": {"update": {
                    "font": {"signal": "datum.value === 'E(pref)' ? 'DejaVu Serif' : 'DejaVu Sans'"},
                    "fontStyle": {"signal": "datum.value === 'E(pref)' ? 'italic' : 'normal'"}
                  }}
                }
              }
            }
          }
        },
        {
          "transform": [{"filter": "datum.series === 'E(pref)'"}],
          "mark": {"type": "line", "strokeWidth": 5.5, "strokeCap": "round", "clip": true},
          "encoding": {
            "x": {"field": "step", "type": "quantitative",
                  "axis": {"orient": "top", "labels": false, "title": null, "values": [0, 200, 400, 600, 800, 1000], "offset": -5, "tickSize": 5, "zindex": 1}},
            "y": {"field": "value", "type": "quantitative",
                  "axis": {"orient": "right", "labels": false, "title": null, "values": [5.8, 6.0, 6.2, 6.4, 6.6, 6.8], "offset": -5, "tickSize": 5, "zindex": 1}},
            "color": {"field": "series", "type": "nominal"}
          }
        }
      ]
    }
  ]
}
